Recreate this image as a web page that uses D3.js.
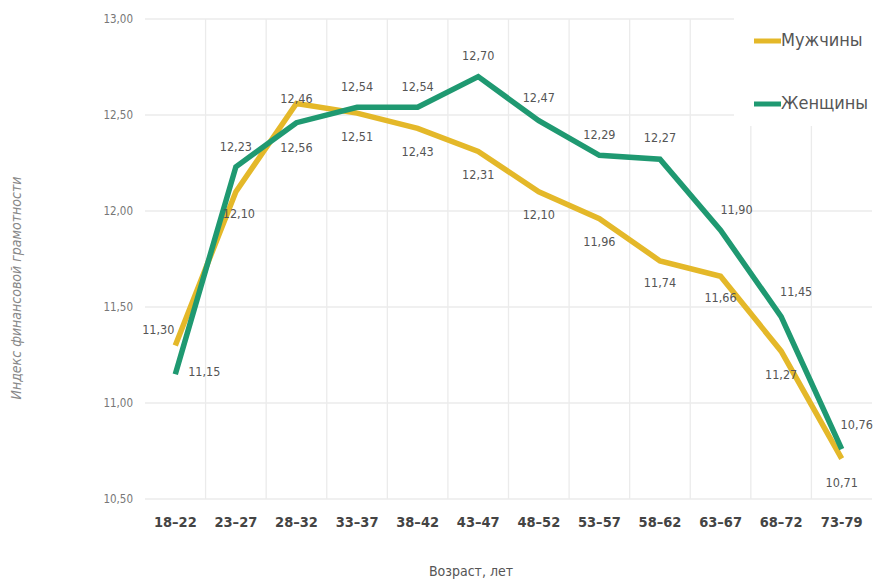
<!DOCTYPE html>
<html><head><meta charset="utf-8">
<script src="https://cdn.jsdelivr.net/npm/d3@7"></script>
<style>
body{margin:0;background:#fff;}
svg{display:block;}
text{font-family:"Liberation Sans Narrow","DejaVu Sans Condensed","Open Sans",sans-serif;}
</style></head>
<body>
<svg id="c" width="873" height="579"></svg>
<script>
const categories = ["18–22","23–27","28–32","33–37","38–42","43–47","48–52","53–57","58–62","63–67","68–72","73-79"];
const menValues   = [11.30,12.10,12.56,12.51,12.43,12.31,12.10,11.96,11.74,11.66,11.27,10.71];
const womenValues = [11.15,12.23,12.46,12.54,12.54,12.70,12.47,12.29,12.27,11.90,11.45,10.76];
const yTicks = [10.5,11.0,11.5,12.0,12.5,13.0];
const seriesNames = ["Мужчины","Женщины"];

// label placement (offsets in px relative to point) — layout only
const menLabelOff   = [[-17,-15],[3,23],[0,45],[0,24],[0,24],[0,24],[0,24],[0,24],[0,23],[0,22],[0,24],[0,25]];
const womenLabelOff = [[29,-2],[0,-19],[0,-23],[0,-20],[0,-20],[0,-20],[0,-22],[0,-20],[0,-21],[16,-20],[15,-24],[15,-24]];

const svg = d3.select("#c");
const m = {l:145, r:1, t:19, b:80};
const W = 873, H = 579;
const x = d3.scaleBand().domain(categories).range([m.l, W - m.r]);
const y = d3.scaleLinear().domain([10.5, 13]).range([499, 19]);

const fmt = v => d3.format(".2f")(v).replace(".", ",");

// grid
const g = svg.append("g");
g.selectAll("line.h").data(yTicks).join("line")
  .attr("x1", m.l).attr("x2", W - m.r)
  .attr("y1", d => y(d)).attr("y2", d => y(d))
  .attr("stroke", "#ebebeb").attr("stroke-width", 1.3);
g.selectAll("line.v").data(categories.slice(1)).join("line")
  .attr("x1", d => x(d)).attr("x2", d => x(d))
  .attr("y1", y(13)).attr("y2", y(10.5))
  .attr("stroke", "#ebebeb").attr("stroke-width", 1.3);

// legend background covering grid
svg.append("rect").attr("x", 734).attr("y", 0).attr("width", 139).attr("height", 126).attr("fill", "#fff");

// y axis
const yAxis = d3.axisLeft(y).tickValues(yTicks).tickFormat(fmt).tickSize(0).tickPadding(0);
const ya = svg.append("g").attr("transform", `translate(133,0)`).call(yAxis);
ya.select(".domain").remove();
ya.selectAll("text").attr("fill", "#777").attr("font-size", 11.5);

// x axis
const xAxis = d3.axisBottom(x).tickSize(0).tickPadding(0);
const xa = svg.append("g").attr("transform", `translate(0,517)`).call(xAxis);
xa.select(".domain").remove();
xa.selectAll("text").attr("fill", "#444").attr("font-size", 14.5).attr("font-weight", "bold").attr("dy", null).attr("y", 0).attr("dominant-baseline", "middle").attr("transform", "translate(0,6)");

// axis titles
svg.append("text").attr("x", 471).attr("y", 576).attr("text-anchor", "middle")
  .attr("fill", "#555").attr("font-size", 14).text("Возраст, лет");
svg.append("text").attr("transform", "translate(21,288) rotate(-90)").attr("text-anchor", "middle")
  .attr("fill", "#888").attr("font-size", 14).attr("font-style", "italic")
  .text("Индекс финансовой грамотности");

const cx = d => x(d) + x.bandwidth() / 2;
const line = d3.line().x(d => cx(d[0])).y(d => y(d[1]));

const series = [
  {name: seriesNames[0], values: menValues, color: "#E4B829", off: menLabelOff},
  {name: seriesNames[1], values: womenValues, color: "#1F9971", off: womenLabelOff}
];

series.forEach(s => {
  svg.append("path").datum(categories.map((c, i) => [c, s.values[i]]))
    .attr("d", line).attr("fill", "none").attr("stroke", s.color)
    .attr("stroke-width", 5.5).attr("stroke-linejoin", "miter");
});

series.forEach(s => {
  svg.append("g").selectAll("text").data(categories).join("text")
    .attr("x", (c, i) => cx(c) + s.off[i][0])
    .attr("y", (c, i) => y(s.values[i]) + s.off[i][1])
    .attr("text-anchor", "middle").attr("dominant-baseline", "middle")
    .attr("fill", "#555").attr("font-size", 12.5)
    .text((c, i) => fmt(s.values[i]));
});

// legend
const lg = svg.append("g");
series.forEach((s, i) => {
  const ly = 41 + i * 63;
  lg.append("line").attr("x1", 754).attr("x2", 781).attr("y1", ly).attr("y2", ly)
    .attr("stroke", s.color).attr("stroke-width", 5);
  lg.append("text").attr("x", 781).attr("y", ly).attr("dominant-baseline", "middle")
    .attr("fill", "#555").attr("font-size", 18).text(s.name);
});
</script>
</body></html>
